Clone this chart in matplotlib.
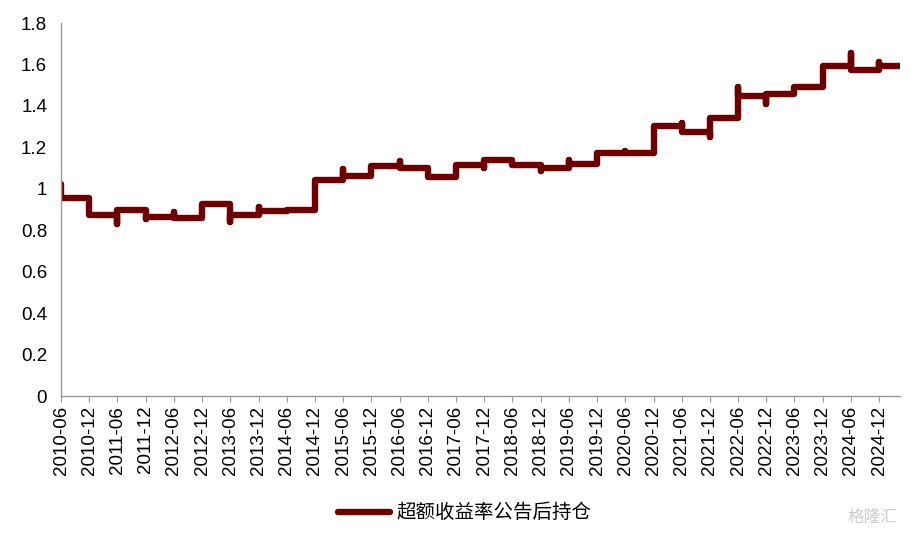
import matplotlib
matplotlib.use("Agg")
import matplotlib.pyplot as plt
import pandas as pd

plt.rcParams["font.family"] = ["Liberation Sans", "Noto Sans CJK SC", "DejaVu Sans"]

# 半年调仓日期（刻度标签）
periods = ["2010-06", "2010-12", "2011-06", "2011-12", "2012-06", "2012-12",
           "2013-06", "2013-12", "2014-06", "2014-12", "2015-06", "2015-12",
           "2016-06", "2016-12", "2017-06", "2017-12", "2018-06", "2018-12",
           "2019-06", "2019-12", "2020-06", "2020-12", "2021-06", "2021-12",
           "2022-06", "2022-12", "2023-06", "2023-12", "2024-06", "2024-12"]
end_date = "2025-04-15"

# 各持仓期的净值水平
levels = [0.955, 0.872, 0.900, 0.862, 0.860, 0.928,
          0.872, 0.892, 0.898, 1.043, 1.062, 1.108,
          1.102, 1.055, 1.115, 1.137, 1.115, 1.102,
          1.118, 1.172, 1.175, 1.302, 1.272, 1.340,
          1.447, 1.458, 1.490, 1.592, 1.575, 1.592]
# 调仓当日的尖峰（无则为 None）
spikes = [1.025, None, 0.832, 0.855, 0.890, None,
          0.842, 0.912, None, None, 1.095, None,
          1.135, None, None, 1.100, None, 1.085,
          1.140, None, 1.185, None, 1.320, 1.250,
          1.490, 1.410, 1.472, None, 1.655, 1.612]

dates = pd.to_datetime(periods)
xs, ys = [], []
for i, d in enumerate(dates):
    nxt = dates[i + 1] if i + 1 < len(dates) else pd.Timestamp(end_date)
    if spikes[i] is not None:
        xs.append(d)
        ys.append(spikes[i])
    xs += [d, nxt]
    ys += [levels[i], levels[i]]

fig = plt.figure(figsize=(9.11, 5.36), dpi=100)
ax = fig.add_axes([0.067, 0.261, 0.921, 0.696])
ax.plot(xs, ys, color="#6e0000", lw=4.6, solid_capstyle="round",
        solid_joinstyle="round", label="超额收益率公告后持仓")

ax.set_ylim(0, 1.8)
ax.set_yticks([0, 0.2, 0.4, 0.6, 0.8, 1.0, 1.2, 1.4, 1.6, 1.8])
ax.set_yticklabels(["0", "0.2", "0.4", "0.6", "0.8", "1", "1.2", "1.4", "1.6", "1.8"])
ax.set_xlim(dates[0], pd.Timestamp(end_date))
ax.set_xticks(dates)
ax.set_xticklabels(periods, rotation=90)
ax.tick_params(axis="x", length=4, color="#999999", labelsize=13.5, pad=3)
ax.tick_params(axis="y", length=0, labelsize=13.5, pad=10)

for s in ["top", "right"]:
    ax.spines[s].set_visible(False)
for s in ["left", "bottom"]:
    ax.spines[s].set_color("#999999")
    ax.spines[s].set_linewidth(1)

leg = fig.legend(loc="center", bbox_to_anchor=(0.51, 0.043), frameon=False,
                 handlelength=2.7, handletextpad=0.3,
                 prop={"family": ["Noto Sans CJK SC", "DejaVu Sans"], "size": 14})

fig.text(0.985, 0.035, "格隆汇", color="#cccccc", fontsize=12, ha="right",
         va="center", family=["Noto Sans CJK SC", "DejaVu Sans"])

fig.savefig("out.png", dpi=100)
plt.close(fig)
